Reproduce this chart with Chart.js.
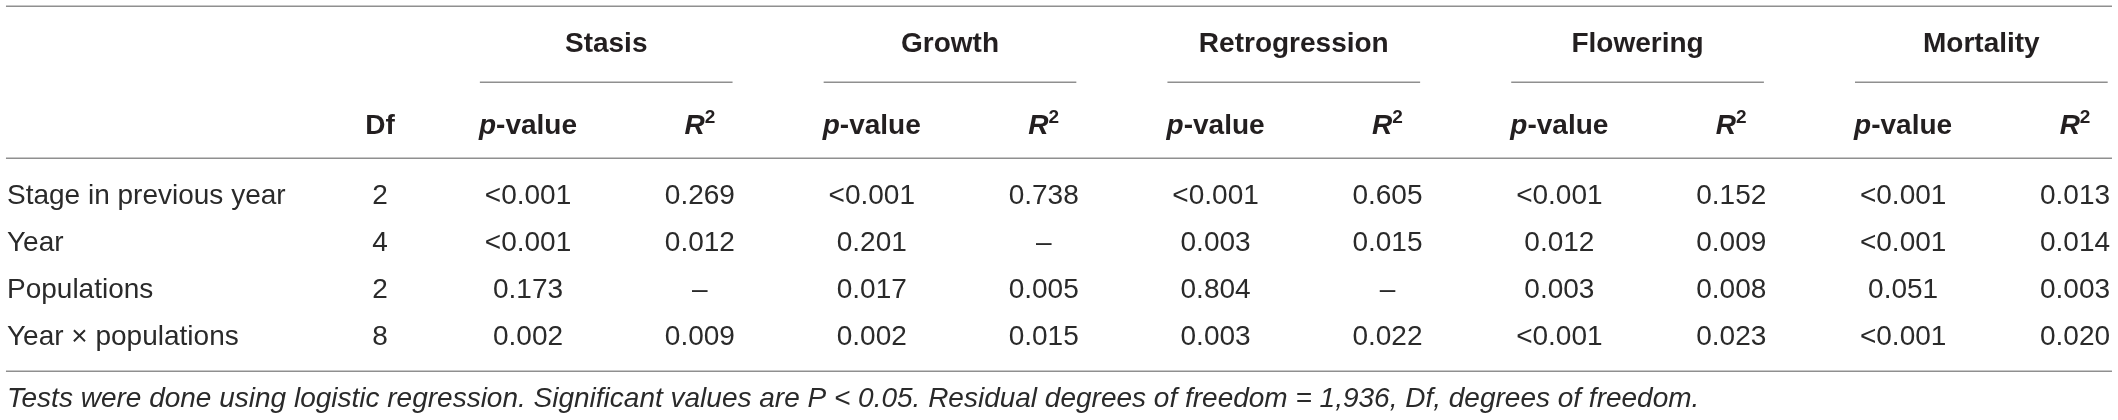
<!DOCTYPE html>
<html>
<head>
<meta charset="utf-8">
<script src="https://cdn.jsdelivr.net/npm/chart.js@4.4.1/dist/chart.umd.min.js"></script>
<style>
  html, body { margin: 0; padding: 0; background: #ffffff; overflow: hidden; }
  #wrap { position: relative; width: 2118px; height: 420px; }
</style>
</head>
<body>
<div id="wrap"><canvas id="c"></canvas></div>
<script>
// ---------------- DATA ----------------
const rowLabels = ['Stage in previous year', 'Year', 'Populations', 'Year \u00d7 populations'];
const dfValues = ['2', '4', '2', '8'];
const groupNames = ['Stasis', 'Growth', 'Retrogression', 'Flowering', 'Mortality'];
const stasisP = ['<0.001', '<0.001', '0.173', '0.002'];
const stasisR2 = ['0.269', '0.012', '\u2013', '0.009'];
const growthP = ['<0.001', '0.201', '0.017', '0.002'];
const growthR2 = ['0.738', '\u2013', '0.005', '0.015'];
const retroP = ['<0.001', '0.003', '0.804', '0.003'];
const retroR2 = ['0.605', '0.015', '\u2013', '0.022'];
const flowP = ['<0.001', '0.012', '0.003', '<0.001'];
const flowR2 = ['0.152', '0.009', '0.008', '0.023'];
const mortP = ['<0.001', '<0.001', '0.051', '<0.001'];
const mortR2 = ['0.013', '0.014', '0.003', '0.020'];
const footnote = 'Tests were done using logistic regression. Significant values are P < 0.05. Residual degrees of freedom = 1,936, Df, degrees of freedom.';

const groupColumns = [
  [stasisP, stasisR2],
  [growthP, growthR2],
  [retroP, retroR2],
  [flowP, flowR2],
  [mortP, mortR2]
];

// ---------------- LAYOUT (scale units) ----------------
const X_MIN = -2.0717, X_MAX = 10.250;   // column-index scale
const Y_MIN = -4.128, Y_MAX = 4.809;     // row-index scale
const LABEL_X = -2.031, DF_X = 0.139;
const RULE_X0 = -2.037, RULE_X1 = 10.215;
const Y_TOP_RULE = -4.0, Y_GROUP_TEXT = -3.234, Y_GROUP_RULE = -2.383;
const Y_HEAD_TEXT = -1.489, Y_HEAD_RULE = -0.766, Y_BOTTOM_RULE = 3.766, Y_NOTE = 4.32;
const GROUP_RULE_LEFT = 0.28, GROUP_RULE_RIGHT = 0.19;

const FONT = '"Liberation Sans", Arial, Helvetica, sans-serif';
const BODY_SIZE = 28, HEAD_SIZE = 28, NOTE_SIZE = 28;
const TEXT_COLOR = '#2a2a2a', HEAD_COLOR = '#231f20', RULE_COLOR = '#8f8f8f';

// ---------------- DATASETS ----------------
function cellPoints(values, x) {
  return values.map((t, i) => ({ x: x, y: i, text: t }));
}
const datasets = [];
datasets.push({ label: 'labels', data: cellPoints(rowLabels, LABEL_X), align: 'left', pointRadius: 0 });
datasets.push({ label: 'Df', data: cellPoints(dfValues, DF_X), align: 'center', pointRadius: 0 });
groupColumns.forEach((cols, g) => {
  datasets.push({ label: groupNames[g] + ' p', data: cellPoints(cols[0], 1 + 2 * g), align: 'center', pointRadius: 0 });
  datasets.push({ label: groupNames[g] + ' R2', data: cellPoints(cols[1], 2 + 2 * g), align: 'center', pointRadius: 0 });
});

// ---------------- DRAW HELPERS ----------------
function drawRuns(ctx, runs, x, yCenter, align) {
  let total = 0;
  runs.forEach(r => { ctx.font = r.font; r.w = ctx.measureText(r.t).width; total += r.w; });
  let cx = align === 'center' ? x - total / 2 : x;
  runs.forEach(r => {
    ctx.font = r.font;
    ctx.fillStyle = r.color;
    ctx.textAlign = 'left';
    ctx.textBaseline = 'alphabetic';
    ctx.fillText(r.t, cx, yCenter + r.cap + (r.dy || 0));
    cx += r.w;
  });
}

const tablePlugin = {
  id: 'tablePlugin',
  afterDatasetsDraw(chart) {
    const ctx = chart.ctx;
    const xs = chart.scales.x, ys = chart.scales.y;
    const X = v => xs.getPixelForValue(v);
    const Y = v => ys.getPixelForValue(v);
    ctx.save();

    // rules
    ctx.strokeStyle = RULE_COLOR;
    ctx.lineWidth = 1.5;
    const hline = (x0, x1, y) => {
      const py = Math.round(Y(y)) + 0.25;
      ctx.beginPath(); ctx.moveTo(X(x0), py); ctx.lineTo(X(x1), py); ctx.stroke();
    };
    hline(RULE_X0, RULE_X1, Y_TOP_RULE);
    hline(RULE_X0, RULE_X1, Y_HEAD_RULE);
    hline(RULE_X0, RULE_X1, Y_BOTTOM_RULE);

    const boldF = `bold ${HEAD_SIZE}px ${FONT}`;
    const boldItF = `italic bold ${HEAD_SIZE}px ${FONT}`;
    const supF = `bold ${Math.round(HEAD_SIZE * 0.68)}px ${FONT}`;
    const cap = HEAD_SIZE * 0.358;

    groupNames.forEach((name, g) => {
      const xp = 1 + 2 * g, xr = 2 + 2 * g;
      const x0 = xp - GROUP_RULE_LEFT, x1 = xr + GROUP_RULE_RIGHT;
      hline(x0, x1, Y_GROUP_RULE);
      drawRuns(ctx, [{ t: name, font: boldF, color: HEAD_COLOR, cap: cap }], (X(x0) + X(x1)) / 2, Y(Y_GROUP_TEXT), 'center');
      drawRuns(ctx, [
        { t: 'p', font: boldItF, color: HEAD_COLOR, cap: cap },
        { t: '-value', font: boldF, color: HEAD_COLOR, cap: cap }
      ], X(xp), Y(Y_HEAD_TEXT), 'center');
      drawRuns(ctx, [
        { t: 'R', font: boldItF, color: HEAD_COLOR, cap: cap },
        { t: '2', font: supF, color: HEAD_COLOR, cap: cap, dy: -11 }
      ], X(xr), Y(Y_HEAD_TEXT), 'center');
    });
    drawRuns(ctx, [{ t: 'Df', font: boldF, color: HEAD_COLOR, cap: cap }], X(DF_X), Y(Y_HEAD_TEXT), 'center');

    // cells
    const bodyF = `${BODY_SIZE}px ${FONT}`;
    const bcap = BODY_SIZE * 0.358;
    chart.data.datasets.forEach((ds, i) => {
      const meta = chart.getDatasetMeta(i);
      meta.data.forEach((el, j) => {
        drawRuns(ctx, [{ t: ds.data[j].text, font: bodyF, color: TEXT_COLOR, cap: bcap }], el.x, el.y, ds.align);
      });
    });

    // footnote
    drawRuns(ctx, [{ t: footnote, font: `italic ${NOTE_SIZE}px ${FONT}`, color: TEXT_COLOR, cap: NOTE_SIZE * 0.358 }],
      X(LABEL_X), Y(Y_NOTE), 'left');
    ctx.restore();
  }
};

new Chart(document.getElementById('c'), {
  type: 'scatter',
  data: { datasets: datasets },
  options: {
    responsive: true,
    maintainAspectRatio: false,
    animation: false,
    layout: { padding: 0 },
    plugins: { legend: { display: false }, tooltip: { enabled: false } },
    elements: { point: { radius: 0, hoverRadius: 0 } },
    scales: {
      x: { type: 'linear', display: false, min: X_MIN, max: X_MAX },
      y: { type: 'linear', display: false, min: Y_MIN, max: Y_MAX, reverse: true }
    }
  },
  plugins: [tablePlugin]
});
</script>
</body>
</html>
